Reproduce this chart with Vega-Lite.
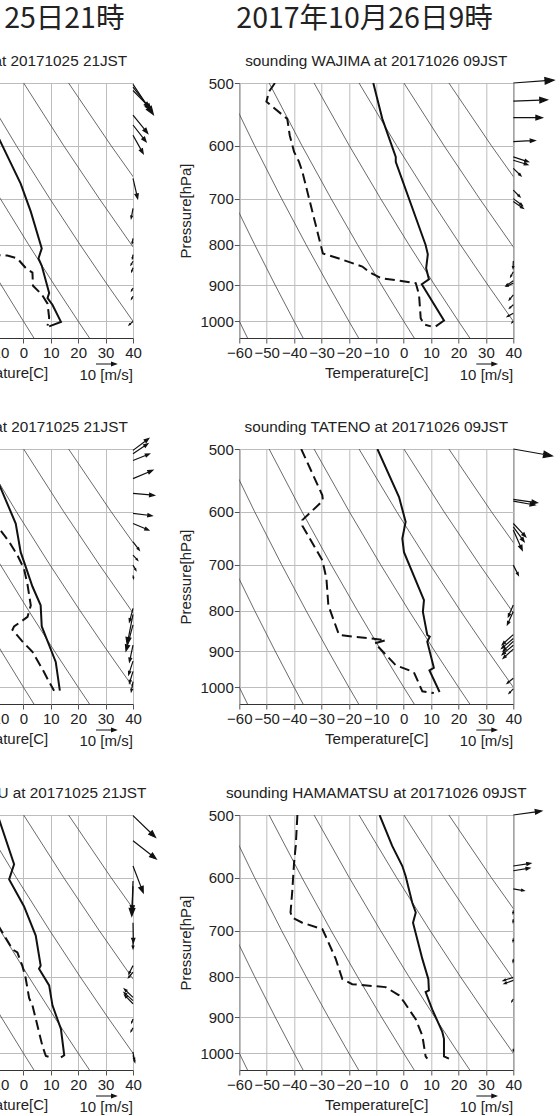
{
"$schema":"https://vega.github.io/schema/vega-lite/v6.json",
"usermeta":{"embedOptions":{"actions":false}},
"background":"white",
"autosize":{"type":"pad"},
"padding":{"left":-202,"top":4,"right":3,"bottom":0},
"config":{"font":"Liberation Sans","view":{"stroke":"#333","strokeWidth":1},
"axis":{"grid":true,"gridColor":"#bdbdbd","gridWidth":1,"domain":false,"tickColor":"#555","tickSize":5,"tickWidth":1,"labelFont":"Liberation Sans","labelFontSize":15,"labelColor":"#222","labelPadding":1,"labelOverlap":false,"labelFlush":false,"titleFont":"Liberation Sans","titleFontSize":15,"titleFontWeight":"normal","titleColor":"#222"},
"axisQuantitative":{"labelOverlap":false},
"axisX":{"titlePadding":5,"labelPadding":2,"labelOverlap":false,"tickCount":11},"axisY":{"titlePadding":6}},
"datasets":{
"adi":[
{"th":-60,"T":-98.33,"p":500},{"th":-60,"T":-88.98,"p":600},{"th":-60,"T":-80.67,"p":700},{"th":-60,"T":-73.18,"p":800},{"th":-60,"T":-66.33,"p":900},{"th":-60,"T":-60,"p":1000},{"th":-60,"T":-57.0,"p":1050},
{"th":-40,"T":-81.93,"p":500},{"th":-40,"T":-71.69,"p":600},{"th":-40,"T":-62.61,"p":700},{"th":-40,"T":-54.41,"p":800},{"th":-40,"T":-46.92,"p":900},{"th":-40,"T":-40,"p":1000},{"th":-40,"T":-36.72,"p":1050},
{"th":-20,"T":-65.52,"p":500},{"th":-20,"T":-54.41,"p":600},{"th":-20,"T":-44.55,"p":700},{"th":-20,"T":-35.65,"p":800},{"th":-20,"T":-27.51,"p":900},{"th":-20,"T":-20,"p":1000},{"th":-20,"T":-16.44,"p":1050},
{"th":0,"T":-49.12,"p":500},{"th":0,"T":-37.13,"p":600},{"th":0,"T":-26.49,"p":700},{"th":0,"T":-16.88,"p":800},{"th":0,"T":-8.11,"p":900},{"th":0,"T":0,"p":1000},{"th":0,"T":3.84,"p":1050},
{"th":20,"T":-32.72,"p":500},{"th":20,"T":-19.85,"p":600},{"th":20,"T":-8.43,"p":700},{"th":20,"T":1.88,"p":800},{"th":20,"T":11.3,"p":900},{"th":20,"T":20,"p":1000},{"th":20,"T":24.12,"p":1050},
{"th":40,"T":-16.31,"p":500},{"th":40,"T":-2.57,"p":600},{"th":40,"T":9.63,"p":700},{"th":40,"T":20.64,"p":800},{"th":40,"T":30.71,"p":900},{"th":40,"T":40,"p":1000},{"th":40,"T":44.4,"p":1050},
{"th":60,"T":0.09,"p":500},{"th":60,"T":14.71,"p":600},{"th":60,"T":27.69,"p":700},{"th":60,"T":39.4,"p":800},{"th":60,"T":50.11,"p":900},{"th":60,"T":60,"p":1000},{"th":60,"T":64.68,"p":1050},
{"th":80,"T":16.49,"p":500},{"th":80,"T":32.0,"p":600},{"th":80,"T":45.75,"p":700},{"th":80,"T":58.17,"p":800},{"th":80,"T":69.52,"p":900},{"th":80,"T":80,"p":1000},{"th":80,"T":84.96,"p":1050}
],
"prof":[
{"st":"W25","k":"T","T":-15.5,"p":500},{"st":"W25","k":"T","T":-8.9,"p":588},{"st":"W25","k":"T","T":-1.0,"p":670},{"st":"W25","k":"T","T":2.7,"p":727},{"st":"W25","k":"T","T":6.7,"p":809},{"st":"W25","k":"T","T":5.5,"p":833},{"st":"W25","k":"T","T":6.7,"p":851},{"st":"W25","k":"T","T":9.4,"p":921},{"st":"W25","k":"T","T":8.8,"p":935},{"st":"W25","k":"T","T":10.6,"p":953},{"st":"W25","k":"T","T":13.7,"p":1002},{"st":"W25","k":"T","T":9.4,"p":1015},
{"st":"W25","k":"Td","T":-12,"p":824},{"st":"W25","k":"Td","T":-5.9,"p":826},{"st":"W25","k":"Td","T":-2.2,"p":833},{"st":"W25","k":"Td","T":0.9,"p":857},{"st":"W25","k":"Td","T":3.3,"p":868},{"st":"W25","k":"Td","T":3.5,"p":902},{"st":"W25","k":"Td","T":6.7,"p":925},{"st":"W25","k":"Td","T":8.8,"p":950},{"st":"W25","k":"Td","T":9.4,"p":990},{"st":"W25","k":"Td","T":8.8,"p":1013},
{"st":"W26","k":"T","T":-11.1,"p":500},{"st":"W26","k":"T","T":-7.8,"p":555},{"st":"W26","k":"T","T":-2.9,"p":620},{"st":"W26","k":"T","T":-2.9,"p":629},{"st":"W26","k":"T","T":8.0,"p":801},{"st":"W26","k":"T","T":8.8,"p":823},{"st":"W26","k":"T","T":8.2,"p":857},{"st":"W26","k":"T","T":9.2,"p":885},{"st":"W26","k":"T","T":6.6,"p":898},{"st":"W26","k":"T","T":14.7,"p":998},{"st":"W26","k":"T","T":11.7,"p":1015},
{"st":"W26","k":"Td","T":-47.0,"p":500},{"st":"W26","k":"Td","T":-49.2,"p":513},{"st":"W26","k":"Td","T":-50.1,"p":528},{"st":"W26","k":"Td","T":-42.5,"p":555},{"st":"W26","k":"Td","T":-41.6,"p":582},{"st":"W26","k":"Td","T":-40.0,"p":611},{"st":"W26","k":"Td","T":-38.2,"p":629},{"st":"W26","k":"Td","T":-37.0,"p":647},{"st":"W26","k":"Td","T":-32.1,"p":756},{"st":"W26","k":"Td","T":-29.5,"p":821},{"st":"W26","k":"Td","T":-24.2,"p":832},{"st":"W26","k":"Td","T":-15.1,"p":853},{"st":"W26","k":"Td","T":-12.7,"p":866},{"st":"W26","k":"Td","T":-8.4,"p":882},{"st":"W26","k":"Td","T":4.4,"p":895},{"st":"W26","k":"Td","T":5.6,"p":926},{"st":"W26","k":"Td","T":6.2,"p":991},{"st":"W26","k":"Td","T":7.4,"p":1009},{"st":"W26","k":"Td","T":9.9,"p":1015},
{"st":"T25","k":"T","T":-14,"p":500},{"st":"T25","k":"T","T":-8.9,"p":554},{"st":"T25","k":"T","T":-2.8,"p":621},{"st":"T25","k":"T","T":-1.0,"p":675},{"st":"T25","k":"T","T":0.2,"p":694},{"st":"T25","k":"T","T":3.3,"p":746},{"st":"T25","k":"T","T":6.3,"p":788},{"st":"T25","k":"T","T":6.7,"p":838},{"st":"T25","k":"T","T":9.4,"p":885},{"st":"T25","k":"T","T":11.8,"p":929},{"st":"T25","k":"T","T":13.3,"p":1010},
{"st":"T25","k":"Td","T":-12,"p":615},{"st":"T25","k":"Td","T":-8.9,"p":630},{"st":"T25","k":"Td","T":-5.2,"p":655},{"st":"T25","k":"Td","T":-2.2,"p":681},{"st":"T25","k":"Td","T":0.2,"p":708},{"st":"T25","k":"Td","T":1.5,"p":742},{"st":"T25","k":"Td","T":2.7,"p":788},{"st":"T25","k":"Td","T":1.5,"p":815},{"st":"T25","k":"Td","T":-3.4,"p":838},{"st":"T25","k":"Td","T":-4.0,"p":846},{"st":"T25","k":"Td","T":-3.4,"p":851},{"st":"T25","k":"Td","T":-0.4,"p":875},{"st":"T25","k":"Td","T":3.3,"p":902},{"st":"T25","k":"Td","T":7.6,"p":958},{"st":"T25","k":"Td","T":9.4,"p":985},{"st":"T25","k":"Td","T":11.2,"p":1010},
{"st":"T26","k":"T","T":-9.6,"p":500},{"st":"T26","k":"T","T":-1.7,"p":575},{"st":"T26","k":"T","T":0.7,"p":618},{"st":"T26","k":"T","T":-0.5,"p":649},{"st":"T26","k":"T","T":0.1,"p":675},{"st":"T26","k":"T","T":7.4,"p":776},{"st":"T26","k":"T","T":7.0,"p":803},{"st":"T26","k":"T","T":8.6,"p":859},{"st":"T26","k":"T","T":9.5,"p":863},{"st":"T26","k":"T","T":8.6,"p":876},{"st":"T26","k":"T","T":11.0,"p":945},{"st":"T26","k":"T","T":9.4,"p":952},{"st":"T26","k":"T","T":13.1,"p":1014},
{"st":"T26","k":"Td","T":-37.4,"p":500},{"st":"T26","k":"Td","T":-29.7,"p":572},{"st":"T26","k":"Td","T":-29.5,"p":581},{"st":"T26","k":"Td","T":-37.0,"p":615},{"st":"T26","k":"Td","T":-37.0,"p":625},{"st":"T26","k":"Td","T":-29.7,"p":691},{"st":"T26","k":"Td","T":-28.2,"p":729},{"st":"T26","k":"Td","T":-27.5,"p":788},{"st":"T26","k":"Td","T":-23.6,"p":859},{"st":"T26","k":"Td","T":-6.6,"p":872},{"st":"T26","k":"Td","T":-10.5,"p":880},{"st":"T26","k":"Td","T":-2.9,"p":938},{"st":"T26","k":"Td","T":3.7,"p":957},{"st":"T26","k":"Td","T":6.8,"p":1012},{"st":"T26","k":"Td","T":11.0,"p":1017},
{"st":"H25","k":"T","T":-9.5,"p":500},{"st":"H25","k":"T","T":-8.9,"p":506},{"st":"H25","k":"T","T":-3.4,"p":577},{"st":"H25","k":"T","T":-5.2,"p":603},{"st":"H25","k":"T","T":0.2,"p":652},{"st":"H25","k":"T","T":4.5,"p":710},{"st":"H25","k":"T","T":6.3,"p":775},{"st":"H25","k":"T","T":5.7,"p":782},{"st":"H25","k":"T","T":9.4,"p":821},{"st":"H25","k":"T","T":10.6,"p":870},{"st":"H25","k":"T","T":13.7,"p":932},{"st":"H25","k":"T","T":14.9,"p":1006},{"st":"H25","k":"T","T":13.7,"p":1012},
{"st":"H25","k":"Td","T":-12,"p":662},{"st":"H25","k":"Td","T":-8.9,"p":692},{"st":"H25","k":"Td","T":-4.0,"p":739},{"st":"H25","k":"Td","T":-2.2,"p":746},{"st":"H25","k":"Td","T":-0.4,"p":775},{"st":"H25","k":"Td","T":0.8,"p":803},{"st":"H25","k":"Td","T":2.1,"p":852},{"st":"H25","k":"Td","T":3.3,"p":870},{"st":"H25","k":"Td","T":7.0,"p":981},{"st":"H25","k":"Td","T":8.2,"p":1008},{"st":"H25","k":"Td","T":10.4,"p":1013},
{"st":"H26","k":"T","T":-8.8,"p":500},{"st":"H26","k":"T","T":-4.2,"p":547},{"st":"H26","k":"T","T":-0.5,"p":580},{"st":"H26","k":"T","T":0.7,"p":597},{"st":"H26","k":"T","T":3.1,"p":645},{"st":"H26","k":"T","T":4.4,"p":664},{"st":"H26","k":"T","T":3.4,"p":684},{"st":"H26","k":"T","T":6.8,"p":760},{"st":"H26","k":"T","T":9.0,"p":806},{"st":"H26","k":"T","T":9.2,"p":833},{"st":"H26","k":"T","T":8.0,"p":837},{"st":"H26","k":"T","T":10.4,"p":880},{"st":"H26","k":"T","T":14.1,"p":940},{"st":"H26","k":"T","T":14.7,"p":959},{"st":"H26","k":"T","T":14.7,"p":1009},{"st":"H26","k":"T","T":16.5,"p":1016},
{"st":"H26","k":"Td","T":-38.8,"p":500},{"st":"H26","k":"Td","T":-39.4,"p":547},{"st":"H26","k":"Td","T":-40.0,"p":574},{"st":"H26","k":"Td","T":-40.7,"p":626},{"st":"H26","k":"Td","T":-41.3,"p":664},{"st":"H26","k":"Td","T":-40.7,"p":674},{"st":"H26","k":"Td","T":-37.0,"p":684},{"st":"H26","k":"Td","T":-29.7,"p":697},{"st":"H26","k":"Td","T":-28.5,"p":711},{"st":"H26","k":"Td","T":-24.8,"p":760},{"st":"H26","k":"Td","T":-22.4,"p":806},{"st":"H26","k":"Td","T":-18.8,"p":818},{"st":"H26","k":"Td","T":-6.6,"p":825},{"st":"H26","k":"Td","T":-1.7,"p":845},{"st":"H26","k":"Td","T":0.1,"p":861},{"st":"H26","k":"Td","T":4.4,"p":906},{"st":"H26","k":"Td","T":6.8,"p":950},{"st":"H26","k":"Td","T":8.0,"p":1009},{"st":"H26","k":"Td","T":8.6,"p":1016}
],
"wind":[
{"st":"W25","p":502,"s":18.2,"a":56},{"st":"W25","p":506,"s":14.7,"a":52},{"st":"W25","p":511,"s":11.7,"a":46},{"st":"W25","p":549,"s":11.7,"a":51},{"st":"W25","p":565,"s":10.6,"a":52},{"st":"W25","p":582,"s":10.5,"a":61},{"st":"W25","p":660,"s":10.3,"a":77},{"st":"W25","p":720,"s":5.1,"a":100},{"st":"W25","p":786,"s":2.5,"a":100},{"st":"W25","p":824,"s":2,"a":100},{"st":"W25","p":840,"s":2,"a":120},{"st":"W25","p":856,"s":2,"a":110},{"st":"W25","p":908,"s":1.5,"a":120},{"st":"W25","p":930,"s":1.5,"a":120},{"st":"W25","p":1001,"s":2.5,"a":140},
{"st":"W26","p":500,"s":20.4,"a":-4},{"st":"W26","p":527,"s":17,"a":-2},{"st":"W26","p":553,"s":14.5,"a":0},{"st":"W26","p":593,"s":10.9,"a":-3},{"st":"W26","p":620,"s":7.9,"a":18},{"st":"W26","p":626,"s":7.5,"a":17},{"st":"W26","p":641,"s":5.3,"a":44},{"st":"W26","p":683,"s":4.7,"a":45},{"st":"W26","p":700,"s":5.6,"a":37},{"st":"W26","p":706,"s":6,"a":34},{"st":"W26","p":839,"s":3.7,"a":92},{"st":"W26","p":866,"s":2.8,"a":118},{"st":"W26","p":889,"s":4.4,"a":146},{"st":"W26","p":895,"s":3.7,"a":154},{"st":"W26","p":926,"s":3.2,"a":129},{"st":"W26","p":953,"s":2.5,"a":138},{"st":"W26","p":977,"s":3.4,"a":151},{"st":"W26","p":1000,"s":1,"a":135},
{"st":"T25","p":502,"s":9.8,"a":-37},{"st":"T25","p":507,"s":8.9,"a":-34},{"st":"T25","p":517,"s":8.8,"a":-22},{"st":"T25","p":545,"s":10.7,"a":-23},{"st":"T25","p":569,"s":10.7,"a":5},{"st":"T25","p":603,"s":9.6,"a":7},{"st":"T25","p":621,"s":8.5,"a":23},{"st":"T25","p":655,"s":5.2,"a":53},{"st":"T25","p":681,"s":3.4,"a":47},{"st":"T25","p":701,"s":2.9,"a":60},{"st":"T25","p":722,"s":1.5,"a":80},{"st":"T25","p":795,"s":6.9,"a":105},{"st":"T25","p":809,"s":15.3,"a":101},{"st":"T25","p":834,"s":13.5,"a":105},{"st":"T25","p":885,"s":8.5,"a":102},{"st":"T25","p":927,"s":7,"a":108},{"st":"T25","p":955,"s":6.1,"a":107},{"st":"T25","p":984,"s":5,"a":100},
{"st":"T26","p":500,"s":19.8,"a":10},{"st":"T26","p":579,"s":12.1,"a":8},{"st":"T26","p":582,"s":11,"a":10},{"st":"T26","p":621,"s":9.1,"a":47},{"st":"T26","p":627,"s":9.2,"a":54},{"st":"T26","p":633,"s":11,"a":66},{"st":"T26","p":701,"s":5.6,"a":63},{"st":"T26","p":787,"s":6.4,"a":113},{"st":"T26","p":802,"s":7.3,"a":114},{"st":"T26","p":858,"s":7.4,"a":138},{"st":"T26","p":868,"s":7.6,"a":140},{"st":"T26","p":875,"s":7.0,"a":136},{"st":"T26","p":885,"s":7.2,"a":140},{"st":"T26","p":895,"s":6.8,"a":138},{"st":"T26","p":974,"s":4,"a":140},{"st":"T26","p":1005,"s":3,"a":135},
{"st":"H25","p":501,"s":15.6,"a":44},{"st":"H25","p":539,"s":14.7,"a":38},{"st":"H25","p":580,"s":14.3,"a":69},{"st":"H25","p":606,"s":17.5,"a":92},{"st":"H25","p":615,"s":12.5,"a":92},{"st":"H25","p":684,"s":10,"a":89},{"st":"H25","p":716,"s":5,"a":90},{"st":"H25","p":775,"s":4.5,"a":117},{"st":"H25","p":790,"s":3.5,"a":130},{"st":"H25","p":850,"s":6,"a":224},{"st":"H25","p":858,"s":6,"a":222},{"st":"H25","p":866,"s":6,"a":226},{"st":"H25","p":905,"s":2,"a":110},{"st":"H25","p":929,"s":2,"a":120},{"st":"H25","p":997,"s":4,"a":80},{"st":"H25","p":1006,"s":3.5,"a":75},
{"st":"H26","p":500,"s":14.3,"a":-8},{"st":"H26","p":580,"s":8.8,"a":-9},{"st":"H26","p":588,"s":8.3,"a":-9},{"st":"H26","p":620,"s":5.4,"a":9},{"st":"H26","p":660,"s":1.5,"a":95},{"st":"H26","p":677,"s":1.5,"a":95},{"st":"H26","p":716,"s":1.5,"a":95},{"st":"H26","p":760,"s":1.5,"a":95},{"st":"H26","p":802,"s":5.3,"a":162},{"st":"H26","p":809,"s":4.8,"a":160},{"st":"H26","p":854,"s":1.5,"a":120},{"st":"H26","p":987,"s":1,"a":90}
]
},
"columns":2,
"bounds":"flush",
"spacing":{"row":111,"column":106.3},
"concat":[
{"width":274,"height":255,"layer":[
{"data":{"name":"adi"},"mark":{"type":"line","clip":true,"stroke":"#444","strokeWidth":0.8},"encoding":{"x":{"field":"T","type":"quantitative","scale":{"domain":[-60,40],"nice":false,"zero":false},"axis":{"values":[-60,-50,-40,-30,-20,-10,0,10,20,30,40],"tickCount":11,"format":"d","title":"Temperature[C]","labelOverlap":false}},"y":{"field":"p","type":"quantitative","scale":{"type":"log","domain":[500,1050],"reverse":true,"nice":false},"axis":{"values":[500,600,700,800,900,1000],"format":"d","title":"Pressure[hPa]","labelOverlap":false}},"detail":{"field":"th","type":"nominal"},"order":{"field":"p","type":"quantitative"}}},
{"data":{"name":"prof"},"transform":[{"filter":"datum.st=='W25'&&datum.k=='Td'"}],"mark":{"type":"line","clip":true,"stroke":"#111","strokeWidth":2,"strokeDash":[10,5]},"encoding":{"x":{"field":"T","type":"quantitative"},"y":{"field":"p","type":"quantitative"},"order":{"field":"p","type":"quantitative"}}},
{"data":{"name":"prof"},"transform":[{"filter":"datum.st=='W25'&&datum.k=='T'"}],"mark":{"type":"line","clip":true,"stroke":"#111","strokeWidth":2},"encoding":{"x":{"field":"T","type":"quantitative"},"y":{"field":"p","type":"quantitative"},"order":{"field":"p","type":"quantitative"}}},
{"data":{"name":"wind"},"transform":[{"filter":"datum.st=='W25'"}],"mark":{"type":"point","shape":"M0,0L0.8,0M0.78,-0.08L1,0L0.78,0.08Z","filled":true,"fill":"#111","stroke":"#111","strokeWidth":1.2,"opacity":1},"encoding":{"x":{"datum":40},"y":{"field":"p","type":"quantitative"},"size":{"field":"s","type":"quantitative","scale":{"type":"pow","exponent":2,"domain":[0,10],"range":[0,1600]},"legend":null},"angle":{"field":"a","type":"quantitative","scale":null}}},
{"data":{"values":[{"t":"sounding WAJIMA at 20171025 21JST"}]},"mark":{"type":"text","dy":-22,"font":"Liberation Sans","fontSize":15.3,"color":"#222"},"encoding":{"x":{"datum":-10},"y":{"datum":500},"text":{"field":"t","type":"nominal"}}},
{"data":{"values":[{"t":"2017年10月25日21時"}]},"mark":{"type":"text","dy":-64,"font":"Noto Sans CJK JP","fontSize":28.5,"color":"#222"},"encoding":{"x":{"datum":-12.8},"y":{"datum":500},"text":{"field":"t","type":"nominal"}}},
{"data":{"values":[{"t":"10 [m/s]"}]},"mark":{"type":"text","dy":37,"font":"Liberation Sans","fontSize":15,"color":"#222"},"encoding":{"x":{"datum":30.2},"y":{"datum":1050},"text":{"field":"t","type":"nominal"}}},
{"data":{"values":[{"s":10,"a":0}]},"mark":{"type":"point","shape":"M0,0L0.8,0M0.78,-0.08L1,0L0.78,0.08Z","filled":true,"fill":"#111","stroke":"#111","strokeWidth":1.2,"opacity":1},"encoding":{"x":{"datum":26.5},"y":{"datum":1050},"yOffset":{"value":26},"size":{"field":"s","type":"quantitative","scale":{"type":"pow","exponent":2,"domain":[0,10],"range":[0,1600]},"legend":null},"angle":{"field":"a","type":"quantitative","scale":null}}}
]},
{"width":274,"height":255,"layer":[
{"data":{"name":"adi"},"mark":{"type":"line","clip":true,"stroke":"#444","strokeWidth":0.8},"encoding":{"x":{"field":"T","type":"quantitative","scale":{"domain":[-60,40],"nice":false,"zero":false},"axis":{"values":[-60,-50,-40,-30,-20,-10,0,10,20,30,40],"tickCount":11,"format":"d","title":"Temperature[C]","labelOverlap":false}},"y":{"field":"p","type":"quantitative","scale":{"type":"log","domain":[500,1050],"reverse":true,"nice":false},"axis":{"values":[500,600,700,800,900,1000],"format":"d","title":"Pressure[hPa]","labelOverlap":false}},"detail":{"field":"th","type":"nominal"},"order":{"field":"p","type":"quantitative"}}},
{"data":{"name":"prof"},"transform":[{"filter":"datum.st=='W26'&&datum.k=='Td'"}],"mark":{"type":"line","clip":true,"stroke":"#111","strokeWidth":2,"strokeDash":[10,5]},"encoding":{"x":{"field":"T","type":"quantitative"},"y":{"field":"p","type":"quantitative"},"order":{"field":"p","type":"quantitative"}}},
{"data":{"name":"prof"},"transform":[{"filter":"datum.st=='W26'&&datum.k=='T'"}],"mark":{"type":"line","clip":true,"stroke":"#111","strokeWidth":2},"encoding":{"x":{"field":"T","type":"quantitative"},"y":{"field":"p","type":"quantitative"},"order":{"field":"p","type":"quantitative"}}},
{"data":{"name":"wind"},"transform":[{"filter":"datum.st=='W26'"}],"mark":{"type":"point","shape":"M0,0L0.8,0M0.78,-0.08L1,0L0.78,0.08Z","filled":true,"fill":"#111","stroke":"#111","strokeWidth":1.2,"opacity":1},"encoding":{"x":{"datum":40},"y":{"field":"p","type":"quantitative"},"size":{"field":"s","type":"quantitative","scale":{"type":"pow","exponent":2,"domain":[0,10],"range":[0,1600]},"legend":null},"angle":{"field":"a","type":"quantitative","scale":null}}},
{"data":{"values":[{"t":"sounding WAJIMA at 20171026 09JST"}]},"mark":{"type":"text","dy":-22,"font":"Liberation Sans","fontSize":15.3,"color":"#222"},"encoding":{"x":{"datum":-10},"y":{"datum":500},"text":{"field":"t","type":"nominal"}}},
{"data":{"values":[{"t":"2017年10月26日9時"}]},"mark":{"type":"text","dy":-64,"font":"Noto Sans CJK JP","fontSize":28.5,"color":"#222"},"encoding":{"x":{"datum":-14.3},"y":{"datum":500},"text":{"field":"t","type":"nominal"}}},
{"data":{"values":[{"t":"10 [m/s]"}]},"mark":{"type":"text","dy":37,"font":"Liberation Sans","fontSize":15,"color":"#222"},"encoding":{"x":{"datum":30.2},"y":{"datum":1050},"text":{"field":"t","type":"nominal"}}},
{"data":{"values":[{"s":10,"a":0}]},"mark":{"type":"point","shape":"M0,0L0.8,0M0.78,-0.08L1,0L0.78,0.08Z","filled":true,"fill":"#111","stroke":"#111","strokeWidth":1.2,"opacity":1},"encoding":{"x":{"datum":26.5},"y":{"datum":1050},"yOffset":{"value":26},"size":{"field":"s","type":"quantitative","scale":{"type":"pow","exponent":2,"domain":[0,10],"range":[0,1600]},"legend":null},"angle":{"field":"a","type":"quantitative","scale":null}}}
]},
{"width":274,"height":255,"layer":[
{"data":{"name":"adi"},"mark":{"type":"line","clip":true,"stroke":"#444","strokeWidth":0.8},"encoding":{"x":{"field":"T","type":"quantitative","scale":{"domain":[-60,40],"nice":false,"zero":false},"axis":{"values":[-60,-50,-40,-30,-20,-10,0,10,20,30,40],"tickCount":11,"format":"d","title":"Temperature[C]","labelOverlap":false}},"y":{"field":"p","type":"quantitative","scale":{"type":"log","domain":[500,1050],"reverse":true,"nice":false},"axis":{"values":[500,600,700,800,900,1000],"format":"d","title":"Pressure[hPa]","labelOverlap":false}},"detail":{"field":"th","type":"nominal"},"order":{"field":"p","type":"quantitative"}}},
{"data":{"name":"prof"},"transform":[{"filter":"datum.st=='T25'&&datum.k=='Td'"}],"mark":{"type":"line","clip":true,"stroke":"#111","strokeWidth":2,"strokeDash":[10,5]},"encoding":{"x":{"field":"T","type":"quantitative"},"y":{"field":"p","type":"quantitative"},"order":{"field":"p","type":"quantitative"}}},
{"data":{"name":"prof"},"transform":[{"filter":"datum.st=='T25'&&datum.k=='T'"}],"mark":{"type":"line","clip":true,"stroke":"#111","strokeWidth":2},"encoding":{"x":{"field":"T","type":"quantitative"},"y":{"field":"p","type":"quantitative"},"order":{"field":"p","type":"quantitative"}}},
{"data":{"name":"wind"},"transform":[{"filter":"datum.st=='T25'"}],"mark":{"type":"point","shape":"M0,0L0.8,0M0.78,-0.08L1,0L0.78,0.08Z","filled":true,"fill":"#111","stroke":"#111","strokeWidth":1.2,"opacity":1},"encoding":{"x":{"datum":40},"y":{"field":"p","type":"quantitative"},"size":{"field":"s","type":"quantitative","scale":{"type":"pow","exponent":2,"domain":[0,10],"range":[0,1600]},"legend":null},"angle":{"field":"a","type":"quantitative","scale":null}}},
{"data":{"values":[{"t":"sounding TATENO at 20171025 21JST"}]},"mark":{"type":"text","dy":-22,"font":"Liberation Sans","fontSize":15.3,"color":"#222"},"encoding":{"x":{"datum":-10},"y":{"datum":500},"text":{"field":"t","type":"nominal"}}},
{"data":{"values":[{"t":"10 [m/s]"}]},"mark":{"type":"text","dy":37,"font":"Liberation Sans","fontSize":15,"color":"#222"},"encoding":{"x":{"datum":30.2},"y":{"datum":1050},"text":{"field":"t","type":"nominal"}}},
{"data":{"values":[{"s":10,"a":0}]},"mark":{"type":"point","shape":"M0,0L0.8,0M0.78,-0.08L1,0L0.78,0.08Z","filled":true,"fill":"#111","stroke":"#111","strokeWidth":1.2,"opacity":1},"encoding":{"x":{"datum":26.5},"y":{"datum":1050},"yOffset":{"value":26},"size":{"field":"s","type":"quantitative","scale":{"type":"pow","exponent":2,"domain":[0,10],"range":[0,1600]},"legend":null},"angle":{"field":"a","type":"quantitative","scale":null}}}
]},
{"width":274,"height":255,"layer":[
{"data":{"name":"adi"},"mark":{"type":"line","clip":true,"stroke":"#444","strokeWidth":0.8},"encoding":{"x":{"field":"T","type":"quantitative","scale":{"domain":[-60,40],"nice":false,"zero":false},"axis":{"values":[-60,-50,-40,-30,-20,-10,0,10,20,30,40],"tickCount":11,"format":"d","title":"Temperature[C]","labelOverlap":false}},"y":{"field":"p","type":"quantitative","scale":{"type":"log","domain":[500,1050],"reverse":true,"nice":false},"axis":{"values":[500,600,700,800,900,1000],"format":"d","title":"Pressure[hPa]","labelOverlap":false}},"detail":{"field":"th","type":"nominal"},"order":{"field":"p","type":"quantitative"}}},
{"data":{"name":"prof"},"transform":[{"filter":"datum.st=='T26'&&datum.k=='Td'"}],"mark":{"type":"line","clip":true,"stroke":"#111","strokeWidth":2,"strokeDash":[10,5]},"encoding":{"x":{"field":"T","type":"quantitative"},"y":{"field":"p","type":"quantitative"},"order":{"field":"p","type":"quantitative"}}},
{"data":{"name":"prof"},"transform":[{"filter":"datum.st=='T26'&&datum.k=='T'"}],"mark":{"type":"line","clip":true,"stroke":"#111","strokeWidth":2},"encoding":{"x":{"field":"T","type":"quantitative"},"y":{"field":"p","type":"quantitative"},"order":{"field":"p","type":"quantitative"}}},
{"data":{"name":"wind"},"transform":[{"filter":"datum.st=='T26'"}],"mark":{"type":"point","shape":"M0,0L0.8,0M0.78,-0.08L1,0L0.78,0.08Z","filled":true,"fill":"#111","stroke":"#111","strokeWidth":1.2,"opacity":1},"encoding":{"x":{"datum":40},"y":{"field":"p","type":"quantitative"},"size":{"field":"s","type":"quantitative","scale":{"type":"pow","exponent":2,"domain":[0,10],"range":[0,1600]},"legend":null},"angle":{"field":"a","type":"quantitative","scale":null}}},
{"data":{"values":[{"t":"sounding TATENO at 20171026 09JST"}]},"mark":{"type":"text","dy":-22,"font":"Liberation Sans","fontSize":15.3,"color":"#222"},"encoding":{"x":{"datum":-10},"y":{"datum":500},"text":{"field":"t","type":"nominal"}}},
{"data":{"values":[{"t":"10 [m/s]"}]},"mark":{"type":"text","dy":37,"font":"Liberation Sans","fontSize":15,"color":"#222"},"encoding":{"x":{"datum":30.2},"y":{"datum":1050},"text":{"field":"t","type":"nominal"}}},
{"data":{"values":[{"s":10,"a":0}]},"mark":{"type":"point","shape":"M0,0L0.8,0M0.78,-0.08L1,0L0.78,0.08Z","filled":true,"fill":"#111","stroke":"#111","strokeWidth":1.2,"opacity":1},"encoding":{"x":{"datum":26.5},"y":{"datum":1050},"yOffset":{"value":26},"size":{"field":"s","type":"quantitative","scale":{"type":"pow","exponent":2,"domain":[0,10],"range":[0,1600]},"legend":null},"angle":{"field":"a","type":"quantitative","scale":null}}}
]},
{"width":274,"height":255,"layer":[
{"data":{"name":"adi"},"mark":{"type":"line","clip":true,"stroke":"#444","strokeWidth":0.8},"encoding":{"x":{"field":"T","type":"quantitative","scale":{"domain":[-60,40],"nice":false,"zero":false},"axis":{"values":[-60,-50,-40,-30,-20,-10,0,10,20,30,40],"tickCount":11,"format":"d","title":"Temperature[C]","labelOverlap":false}},"y":{"field":"p","type":"quantitative","scale":{"type":"log","domain":[500,1050],"reverse":true,"nice":false},"axis":{"values":[500,600,700,800,900,1000],"format":"d","title":"Pressure[hPa]","labelOverlap":false}},"detail":{"field":"th","type":"nominal"},"order":{"field":"p","type":"quantitative"}}},
{"data":{"name":"prof"},"transform":[{"filter":"datum.st=='H25'&&datum.k=='Td'"}],"mark":{"type":"line","clip":true,"stroke":"#111","strokeWidth":2,"strokeDash":[10,5]},"encoding":{"x":{"field":"T","type":"quantitative"},"y":{"field":"p","type":"quantitative"},"order":{"field":"p","type":"quantitative"}}},
{"data":{"name":"prof"},"transform":[{"filter":"datum.st=='H25'&&datum.k=='T'"}],"mark":{"type":"line","clip":true,"stroke":"#111","strokeWidth":2},"encoding":{"x":{"field":"T","type":"quantitative"},"y":{"field":"p","type":"quantitative"},"order":{"field":"p","type":"quantitative"}}},
{"data":{"name":"wind"},"transform":[{"filter":"datum.st=='H25'"}],"mark":{"type":"point","shape":"M0,0L0.8,0M0.78,-0.08L1,0L0.78,0.08Z","filled":true,"fill":"#111","stroke":"#111","strokeWidth":1.2,"opacity":1},"encoding":{"x":{"datum":40},"y":{"field":"p","type":"quantitative"},"size":{"field":"s","type":"quantitative","scale":{"type":"pow","exponent":2,"domain":[0,10],"range":[0,1600]},"legend":null},"angle":{"field":"a","type":"quantitative","scale":null}}},
{"data":{"values":[{"t":"sounding HAMAMATSU at 20171025 21JST"}]},"mark":{"type":"text","dy":-22,"font":"Liberation Sans","fontSize":15.3,"color":"#222"},"encoding":{"x":{"datum":-10},"y":{"datum":500},"text":{"field":"t","type":"nominal"}}},
{"data":{"values":[{"t":"10 [m/s]"}]},"mark":{"type":"text","dy":37,"font":"Liberation Sans","fontSize":15,"color":"#222"},"encoding":{"x":{"datum":30.2},"y":{"datum":1050},"text":{"field":"t","type":"nominal"}}},
{"data":{"values":[{"s":10,"a":0}]},"mark":{"type":"point","shape":"M0,0L0.8,0M0.78,-0.08L1,0L0.78,0.08Z","filled":true,"fill":"#111","stroke":"#111","strokeWidth":1.2,"opacity":1},"encoding":{"x":{"datum":26.5},"y":{"datum":1050},"yOffset":{"value":26},"size":{"field":"s","type":"quantitative","scale":{"type":"pow","exponent":2,"domain":[0,10],"range":[0,1600]},"legend":null},"angle":{"field":"a","type":"quantitative","scale":null}}}
]},
{"width":274,"height":255,"layer":[
{"data":{"name":"adi"},"mark":{"type":"line","clip":true,"stroke":"#444","strokeWidth":0.8},"encoding":{"x":{"field":"T","type":"quantitative","scale":{"domain":[-60,40],"nice":false,"zero":false},"axis":{"values":[-60,-50,-40,-30,-20,-10,0,10,20,30,40],"tickCount":11,"format":"d","title":"Temperature[C]","labelOverlap":false}},"y":{"field":"p","type":"quantitative","scale":{"type":"log","domain":[500,1050],"reverse":true,"nice":false},"axis":{"values":[500,600,700,800,900,1000],"format":"d","title":"Pressure[hPa]","labelOverlap":false}},"detail":{"field":"th","type":"nominal"},"order":{"field":"p","type":"quantitative"}}},
{"data":{"name":"prof"},"transform":[{"filter":"datum.st=='H26'&&datum.k=='Td'"}],"mark":{"type":"line","clip":true,"stroke":"#111","strokeWidth":2,"strokeDash":[10,5]},"encoding":{"x":{"field":"T","type":"quantitative"},"y":{"field":"p","type":"quantitative"},"order":{"field":"p","type":"quantitative"}}},
{"data":{"name":"prof"},"transform":[{"filter":"datum.st=='H26'&&datum.k=='T'"}],"mark":{"type":"line","clip":true,"stroke":"#111","strokeWidth":2},"encoding":{"x":{"field":"T","type":"quantitative"},"y":{"field":"p","type":"quantitative"},"order":{"field":"p","type":"quantitative"}}},
{"data":{"name":"wind"},"transform":[{"filter":"datum.st=='H26'"}],"mark":{"type":"point","shape":"M0,0L0.8,0M0.78,-0.08L1,0L0.78,0.08Z","filled":true,"fill":"#111","stroke":"#111","strokeWidth":1.2,"opacity":1},"encoding":{"x":{"datum":40},"y":{"field":"p","type":"quantitative"},"size":{"field":"s","type":"quantitative","scale":{"type":"pow","exponent":2,"domain":[0,10],"range":[0,1600]},"legend":null},"angle":{"field":"a","type":"quantitative","scale":null}}},
{"data":{"values":[{"t":"sounding HAMAMATSU at 20171026 09JST"}]},"mark":{"type":"text","dy":-22,"font":"Liberation Sans","fontSize":15.3,"color":"#222"},"encoding":{"x":{"datum":-10},"y":{"datum":500},"text":{"field":"t","type":"nominal"}}},
{"data":{"values":[{"t":"10 [m/s]"}]},"mark":{"type":"text","dy":37,"font":"Liberation Sans","fontSize":15,"color":"#222"},"encoding":{"x":{"datum":30.2},"y":{"datum":1050},"text":{"field":"t","type":"nominal"}}},
{"data":{"values":[{"s":10,"a":0}]},"mark":{"type":"point","shape":"M0,0L0.8,0M0.78,-0.08L1,0L0.78,0.08Z","filled":true,"fill":"#111","stroke":"#111","strokeWidth":1.2,"opacity":1},"encoding":{"x":{"datum":26.5},"y":{"datum":1050},"yOffset":{"value":26},"size":{"field":"s","type":"quantitative","scale":{"type":"pow","exponent":2,"domain":[0,10],"range":[0,1600]},"legend":null},"angle":{"field":"a","type":"quantitative","scale":null}}}
]}
]
}
